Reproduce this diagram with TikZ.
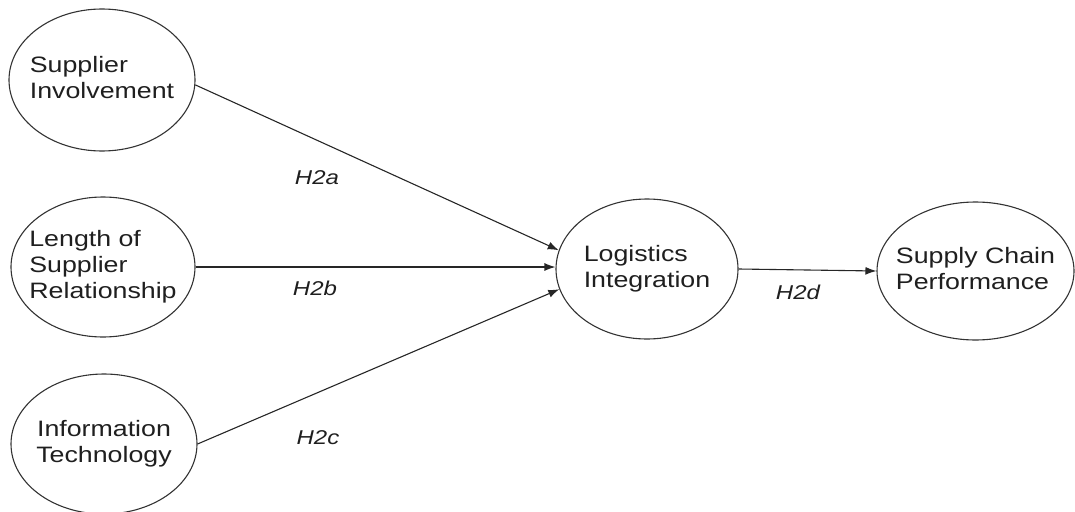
\documentclass[tikz,border=0pt]{standalone}
\usepackage{fontspec}
\setmainfont{Liberation Sans}[FakeStretch=1.2]
\usetikzlibrary{shapes.geometric,arrows.meta}
% stacked lines of text that take no width, so the ellipse keeps its own size
\newcommand{\boxlines}[2]{\makebox[0pt]{\begin{tabular}{@{}#1@{}}#2\end{tabular}}}
\begin{document}
\begin{tikzpicture}[x=1pt,y=-1pt,
  construct/.style={ellipse,draw=black!80,line width=1.1pt,inner sep=0pt,
    text=black!88,font=\fontsize{22.3}{26}\selectfont},
  hyp/.style={inner sep=0pt,text=black!88,font=\fontsize{20}{24}\selectfont\itshape},
  link/.style={draw=black!85,line width=1.1pt,-{Latex[length=11pt,width=8pt]}}]
\useasboundingbox (0,0) rectangle (1075,511);

% constructs
\node[construct,minimum width=186pt,minimum height=142pt] (si) at (102,80)
  {\boxlines{l}{Supplier\\Involvement}};
\node[construct,minimum width=184pt,minimum height=140pt] (lsr) at (103,267)
  {\boxlines{l}{Length of\\Supplier\\Relationship}};
\node[construct,minimum width=186pt,minimum height=140pt] (it) at (104,444)
  {\boxlines{c}{Information\\Technology}};
\node[construct,minimum width=182pt,minimum height=140pt] (li) at (647,269)
  {\boxlines{l}{Logistics\\Integration}};
\node[construct,minimum width=197pt,minimum height=138pt] (scp) at (975.5,271)
  {\boxlines{l}{Supply Chain\\Performance}};

% hypothesised paths
\draw[link] (si.-3) -- (li.168);
\draw[link] (lsr.east) -- (lsr.east -| li.west);
\draw[link] (it.east) -- (li.193);
\draw[link] (li.east) -- (scp.west);

% hypothesis labels
\node[hyp] (h2a) at (317,178) {H2a};
\node[hyp] (h2b) at (315,288) {H2b};
\node[hyp] (h2c) at (318,438) {H2c};
\node[hyp] (h2d) at (798,292) {H2d};
\end{tikzpicture}
\end{document}
